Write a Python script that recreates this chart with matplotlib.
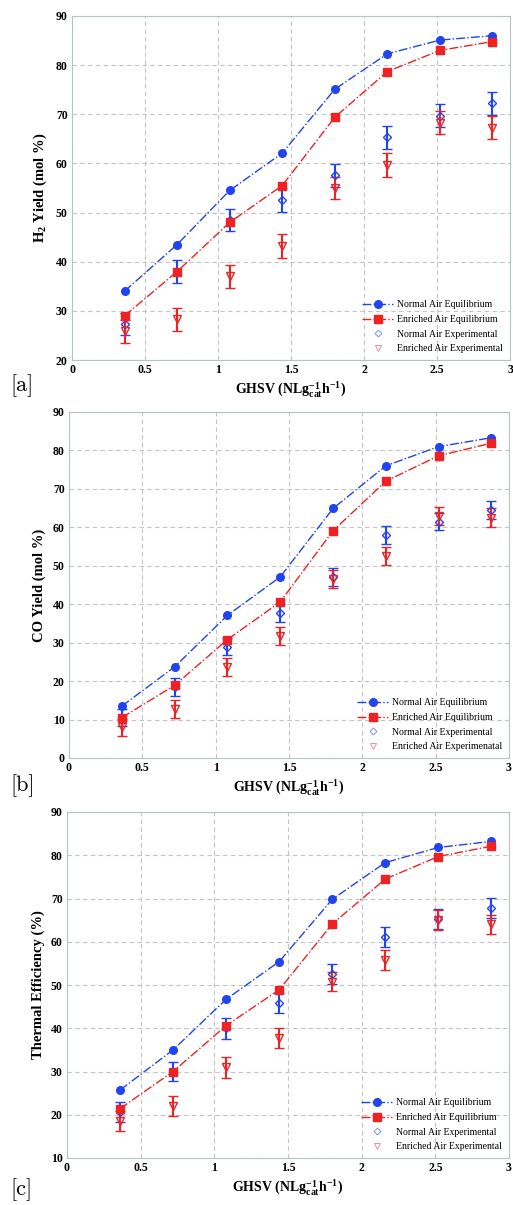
import matplotlib
matplotlib.use("Agg")
import matplotlib.pyplot as plt
from matplotlib.lines import Line2D

plt.rcParams['font.family'] = ['Liberation Serif', 'DejaVu Serif']
plt.rcParams['mathtext.fontset'] = 'custom'
plt.rcParams['mathtext.rm'] = 'Liberation Serif'
plt.rcParams['mathtext.bf'] = 'Liberation Serif:bold'
plt.rcParams['mathtext.it'] = 'Liberation Serif:italic'

ghsv = [0.36, 0.72, 1.08, 1.44, 1.80, 2.16, 2.52, 2.88]

# Panel a: H2 yield
h2_normal_eq = [34.0, 43.5, 54.5, 62.1, 75.1, 82.3, 85.1, 86.0]
h2_enriched_eq = [29.0, 38.0, 48.0, 55.5, 69.4, 78.7, 83.0, 84.8]
h2_normal_exp = [27.3, 38.0, 48.5, 52.6, 57.6, 65.3, 69.7, 72.2]
h2_enriched_exp = [25.8, 28.3, 37.0, 43.2, 55.0, 59.7, 68.3, 67.3]
h2_err = [2.3, 2.3, 2.3, 2.4, 2.3, 2.4, 2.3, 2.4]

# Panel b: CO yield
co_normal_eq = [13.5, 23.7, 37.1, 47.1, 64.9, 76.0, 81.0, 83.3]
co_enriched_eq = [10.5, 18.9, 30.8, 40.6, 59.1, 72.0, 78.6, 81.9]
co_normal_exp = [10.5, 18.5, 29.0, 37.8, 47.0, 58.0, 61.5, 64.5]
co_enriched_exp = [8.0, 12.8, 23.7, 31.7, 46.5, 52.5, 63.0, 62.5]
co_err = [2.2, 2.4, 2.3, 2.3, 2.3, 2.4, 2.3, 2.4]

# Panel c: thermal efficiency
te_normal_eq = [25.7, 35.0, 46.7, 55.4, 69.8, 78.3, 81.8, 83.2]
te_enriched_eq = [21.4, 30.0, 40.6, 48.9, 64.1, 74.5, 79.7, 82.1]
te_normal_exp = [20.7, 30.0, 40.0, 45.8, 52.5, 61.2, 65.2, 67.8]
te_enriched_exp = [18.5, 22.0, 31.0, 37.8, 50.8, 55.8, 65.0, 64.0]
te_err = [2.3, 2.3, 2.4, 2.3, 2.3, 2.3, 2.3, 2.3]

x_ticks = [0, 0.5, 1, 1.5, 2, 2.5, 3]
x_ticklabels = ['0', '0.5', '1', '1.5', '2', '2.5', '3']

BLUE = '#2244ee'
RED = '#ee2222'

W, H = 513, 1205
fig = plt.figure(figsize=(W / 100, H / 100), dpi=100)


def px_axes(left, right, top, bottom):
    return fig.add_axes([left / W, 1 - bottom / H, (right - left) / W, (bottom - top) / H])


panels = [
    dict(box=(72, 510, 16, 360), ylim=(20, 90), ylabel=r'H$_{\mathbf{2}}$ Yield (mol %)',
         neq=h2_normal_eq, eeq=h2_enriched_eq, nexp=h2_normal_exp, eexp=h2_enriched_exp, err=h2_err,
         leg4='Enriched Air Experimental', tag='[a]', tagy=386, xly=390, ylx=40),
    dict(box=(69, 509, 412, 758), ylim=(0, 90), ylabel='CO Yield (mol %)',
         neq=co_normal_eq, eeq=co_enriched_eq, nexp=co_normal_exp, eexp=co_enriched_exp, err=co_err,
         leg4='Enriched Air Experimenatal', tag='[b]', tagy=786, xly=788, ylx=39),
    dict(box=(67, 509, 812, 1158), ylim=(10, 90), ylabel='Thermal Efficiency (%)',
         neq=te_normal_eq, eeq=te_enriched_eq, nexp=te_normal_exp, eexp=te_enriched_exp, err=te_err,
         leg4='Enriched Air Experimental', tag='[c]', tagy=1190, xly=1188, ylx=38),
]

for p in panels:
    l, r, t, b = p['box']
    ax = px_axes(l, r, t, b)
    ax.set_xlim(0, 3)
    ax.set_ylim(*p['ylim'])
    ax.set_xticks(x_ticks)
    ax.set_xticklabels(x_ticklabels)
    ax.set_yticks(range(p['ylim'][0], 91, 10))
    ax.grid(True, linestyle=(0, (4, 3)), color='#c4c4c4', linewidth=0.8)
    ax.set_axisbelow(True)
    for s in ax.spines.values():
        s.set_color('#b8c4c4')
        s.set_linewidth(0.8)
    ax.tick_params(length=0, labelsize=8.5, pad=3)
    for lab in ax.get_xticklabels() + ax.get_yticklabels():
        lab.set_fontweight('bold')

    ax.errorbar(ghsv, p['nexp'], yerr=p['err'], fmt='D', mfc='none', mec=BLUE, color=BLUE,
                ms=4, mew=1.0, elinewidth=1.5, capsize=3.5, capthick=1.5, zorder=3)
    ax.errorbar(ghsv, p['eexp'], yerr=p['err'], fmt='v', mfc='none', mec=RED, color=RED,
                ms=5.5, mew=1.0, elinewidth=1.5, capsize=3.5, capthick=1.5, zorder=3)
    ax.plot(ghsv, p['neq'], linestyle='-.', color=BLUE, lw=1.0, marker='o', ms=5.5, zorder=4)
    ax.plot(ghsv, p['eeq'], linestyle='-.', color=RED, lw=1.0, marker='s', ms=5.5, zorder=4)

    fig.text(p['ylx'] / W, 1 - (t + b) / 2 / H, p['ylabel'], rotation=90,
             ha='center', va='center', fontsize=10.5, fontweight='bold')

    handles = [
        Line2D([], [], linestyle='-.', color=BLUE, lw=1.0, marker='o', ms=5.5),
        Line2D([], [], linestyle='-.', color=RED, lw=1.0, marker='s', ms=5.5),
        Line2D([], [], linestyle='none', marker='D', mfc='none', mec='#8090f0', ms=3.5, mew=0.7),
        Line2D([], [], linestyle='none', marker='v', mfc='none', mec='#f09090', ms=4.5, mew=0.7),
    ]
    labels = ['Normal Air Equilibrium', 'Enriched Air Equilibrium', 'Normal Air Experimental', p['leg4']]
    ax.legend(handles, labels, loc='lower right', frameon=False, fontsize=7,
              handlelength=3.2, handletextpad=0.4, labelspacing=0.58,
              bbox_to_anchor=(1.0, 0.0), borderaxespad=0.3)

    fig.text((l + r) / 2 / W, 1 - p['xly'] / H,
             r'GHSV (NLg$_{\mathbf{cat}}^{\mathbf{-1}}$h$^{\mathbf{-1}}$)',
             ha='center', va='center', fontsize=10, fontweight='bold')
    fig.text(10 / W, 1 - p['tagy'] / H, p['tag'], ha='left', va='center', fontsize=16,
             family=['cmr10', 'DejaVu Serif'])

fig.savefig('out.png', dpi=100)
